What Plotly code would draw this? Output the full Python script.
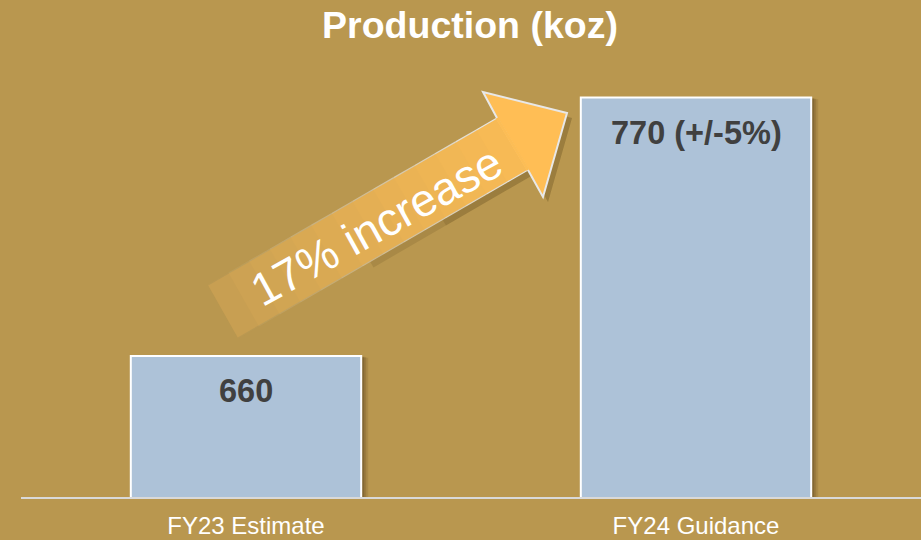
import plotly.graph_objects as go

categories = ["FY23 Estimate", "FY24 Guidance"]
values = [660, 770]
value_labels = ["660", "770 (+/-5%)"]
title_text = "Production (koz)"
arrow_text = "17% increase"

BG = "#B9974F"
BAR = "#ADC2D8"
FONT = "Liberation Sans, Arial, sans-serif"

W, H = 921, 540
ML, MR, MT, MB = 21, 0, 27, 43
PW, PH = W - ML - MR, H - MT - MB


def px(x, y):
    return ((x - ML) / PW, (H - MB - y) / PH)


def path(pts):
    s = ""
    for i, (x, y) in enumerate(pts):
        X, Y = px(x, y)
        s += ("M" if i == 0 else "L") + f"{X:.5f},{Y:.5f} "
    return s + "Z"


def mix(c1, c2, t):
    a = [int(c1[i:i + 2], 16) for i in (1, 3, 5)]
    b = [int(c2[i:i + 2], 16) for i in (1, 3, 5)]
    return "rgb(%d,%d,%d)" % tuple(round(a[k] + (b[k] - a[k]) * t) for k in range(3))


def lerp(p, q, t):
    return (p[0] + (q[0] - p[0]) * t, p[1] + (q[1] - p[1]) * t)


fig = go.Figure()
fig.add_trace(go.Bar(
    x=categories, y=values,
    marker=dict(color=BAR, line=dict(color="white", width=2)),
    width=0.512, hoverinfo="skip",
))

shapes = []
# bar shadows
half = 0.256
for i, v in enumerate(values):
    for k, (dx, op) in enumerate([(7, 0.12), (5, 0.18), (3, 0.25)]):
        off = dx / (PW / 2)
        shapes.append(dict(
            type="rect", xref="x", yref="y", layer="below",
            x0=i - half + off, x1=i + half + off, y0=600, y1=v - dx * 0.25 / 2.35,
            fillcolor=f"rgba(70,50,20,{op})", line=dict(width=0),
        ))

# arrow geometry (pixels)
tail_top = (208, 285)
neck_top = (497, 118)
tail_bot = (238, 338)
neck_bot = (528, 170)
barb_top = (483, 92)
tip = (567, 113)
barb_bot = (543, 197)
HEAD = "#FFBE55"

sh = 5
# shadow: soft single polygons
for (s0, op) in [(0.45, 0.12), (0.7, 0.12)]:
    pts = [lerp(tail_top, neck_top, s0), neck_top, barb_top, tip, barb_bot, neck_bot,
           lerp(tail_bot, neck_bot, s0)]
    shapes.append(dict(type="path", xref="paper", yref="paper",
                       path=path([(x + sh, y + sh) for x, y in pts]),
                       fillcolor=f"rgba(60,40,10,{op})", line=dict(width=0)))
N = 14
for i in range(N):
    t0, t1 = i / N, (i + 1) / N
    a = lerp(tail_top, neck_top, t0)
    b = lerp(tail_top, neck_top, min(t1 + 0.01, 1.0))
    c = lerp(tail_bot, neck_bot, min(t1 + 0.01, 1.0))
    d = lerp(tail_bot, neck_bot, t0)
    tm = (t0 + t1) / 2
    shapes.append(dict(type="path", xref="paper", yref="paper",
                       path=path([a, b, c, d]),
                       fillcolor=mix("#C49D52", "#F9BB55", tm ** 0.8), line=dict(width=0)))
for i in range(N):
    t0, t1 = i / N, (i + 1) / N
    tm = (t0 + t1) / 2
    ec = mix(BG, "#E8E8E8", tm ** 1.2)
    for p, q in [(lerp(tail_top, neck_top, t0), lerp(tail_top, neck_top, t1)),
                 (lerp(tail_bot, neck_bot, t0), lerp(tail_bot, neck_bot, t1))]:
        X0, Y0 = px(*p)
        X1, Y1 = px(*q)
        shapes.append(dict(type="line", xref="paper", yref="paper",
                           x0=X0, y0=Y0, x1=X1, y1=Y1, line=dict(color=ec, width=1.2)))
shapes.append(dict(type="path", xref="paper", yref="paper",
                   path=path([neck_top, barb_top, tip, barb_bot, neck_bot]),
                   fillcolor=HEAD, line=dict(color="#E8E8E8", width=2)))
X0, Y0 = px(*neck_top)
X1, Y1 = px(*neck_bot)
shapes.append(dict(type="line", xref="paper", yref="paper", x0=X0, y0=Y0, x1=X1, y1=Y1,
                   line=dict(color="#FCBD55", width=3)))

annotations = []
for c, v, lab in zip(categories, values, value_labels):
    annotations.append(dict(x=c, y=v, xref="x", yref="y", text=f"<b>{lab}</b>",
                            showarrow=False, yanchor="top", yshift=-15,
                            font=dict(family=FONT, size=32.5, color="#404040")))
tx, ty = px(376, 226)
annotations.append(dict(x=tx, y=ty, xref="paper", yref="paper", text=arrow_text,
                        showarrow=False, textangle=-29,
                        font=dict(family=FONT, size=46, color="white")))

fig.update_layout(
    width=W, height=H,
    margin=dict(l=ML, r=MR, t=MT, b=MB, pad=0),
    paper_bgcolor=BG, plot_bgcolor=BG,
    showlegend=False,
    title=dict(text=f"<b>{title_text}</b>", x=470 / W, xanchor="center",
               y=1 - 25 / H, yanchor="middle", yref="container",
               font=dict(family=FONT, size=37.5, color="white")),
    xaxis=dict(showline=True, linecolor="#D9D9D9", linewidth=2, showgrid=False,
               ticks="", tickfont=dict(family=FONT, size=24, color="white"),
               ticklabelstandoff=6,
               range=[-0.5, 1.5], fixedrange=True),
    yaxis=dict(range=[600, 800], visible=False, showgrid=False, zeroline=False, fixedrange=True),
    shapes=shapes, annotations=annotations, bargap=0.488,
)
fig.write_html("out.html", config={"displayModeBar": False},
               post_script="document.body.style.margin='0';document.body.style.background='" + BG + "';")
